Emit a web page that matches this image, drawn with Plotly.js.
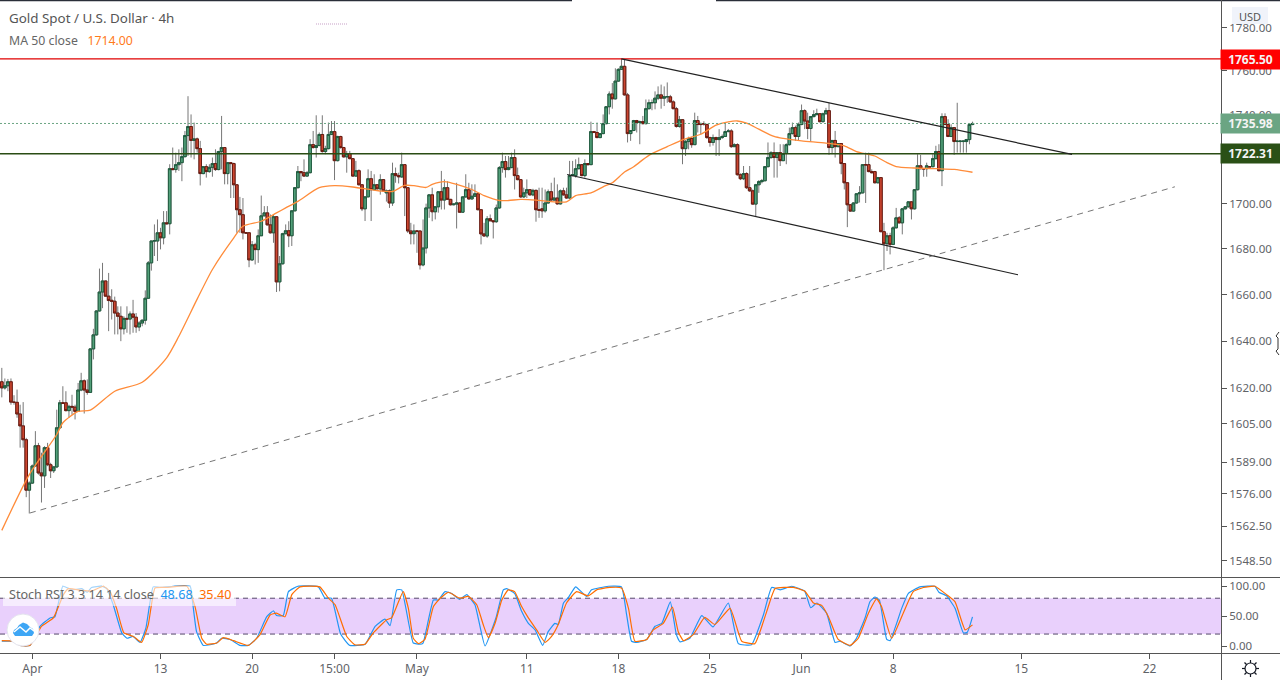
<!DOCTYPE html>
<html><head><meta charset="utf-8">
<script src="https://cdn.plot.ly/plotly-3.0.1.min.js"></script>
<style>html,body{margin:0;padding:0;background:#fff}#c{width:1280px;height:680px}</style></head>
<body><div id="c"></div>
<script>
const opens=[1622.7,1620.1,1621,1622.7,1614.1,1614,1609.1,1604.1,1598.3,1577.4,
1580.3,1587.4,1595.8,1584.5,1583.3,1595,1587.9,1585.4,1587,1603.3,
1613.8,1613.8,1610.5,1612.3,1612,1610.2,1619.2,1623.1,1619.2,1618.2,
1636.7,1642.7,1653,1661.2,1666,1659.4,1657.6,1657.2,1652.1,1650.7,
1645.3,1649.8,1649.5,1651.7,1650.3,1646.1,1647.8,1649,1658.5,1673.9,
1683.5,1683.5,1687.1,1684.9,1691.5,1691.1,1715.6,1715.2,1717.4,1718.3,
1721,1730.5,1734.6,1728.3,1729,1724.6,1713.4,1716.5,1714.3,1716.2,
1717.9,1715.2,1723.3,1725.1,1713.4,1718.3,1717.9,1708.4,1697.3,1695.1,
1687.1,1687.1,1675.2,1681.8,1679.7,1685.8,1694.6,1695.9,1690.6,1687.1,
1694.2,1665.6,1673.5,1686.7,1688,1685.8,1696.8,1707.1,1714.3,1713.8,
1712.3,1713.8,1726.4,1725.1,1726,1731,1723.3,1724.6,1731,1732.3,
1719.2,1730.1,1725.1,1720.9,1722.4,1720.1,1712.3,1714.7,1708.4,1697.7,
1703,1711.1,1706.2,1708.4,1706.6,1710.7,1704.8,1705.7,1700.3,1713.4,
1712.5,1711.9,1717.4,1707.1,1687.9,1686.7,1687.9,1687.9,1673,1680.4,
1698.1,1703.9,1696.4,1698.6,1705.3,1701.6,1707.1,1701.9,1699.5,1699.8,
1700.3,1696.2,1703,1706.2,1702.1,1703.3,1704.4,1697.3,1686.6,1685.7,
1693.3,1692.4,1692,1698.1,1716.1,1718.8,1715.2,1716.1,1720.6,1712.5,
1710.7,1703,1704.8,1706.2,1703.9,1705.9,1697.3,1697.7,1696.8,1700.3,
1705.3,1701.6,1702.5,1699.9,1705.7,1703.9,1702.5,1712.5,1712.5,1715.6,
1717.4,1712.5,1717.9,1717.4,1732.3,1731.9,1729.6,1731.4,1735.9,1743.6,
1749.4,1747.2,1755.3,1760.7,1762.1,1749,1731.4,1732.8,1737.3,1736.4,
1736.8,1735.9,1742.7,1745.4,1745.4,1747.5,1749,1747.5,1748.1,1748.1,
1745.8,1742.7,1734.6,1737.7,1724.6,1727.8,1729.2,1726.4,1737.3,1735.9,
1735.9,1735.5,1729.6,1727.4,1729.6,1728.7,1729.6,1730.1,1732.3,1732.6,
1725.5,1726.4,1712.9,1711.1,1713.4,1707.1,1705.7,1699.8,1708.4,1709.8,
1710.2,1716.5,1720.6,1722.8,1720.6,1722.8,1719.2,1722.4,1726.4,1731.4,
1734.1,1730.1,1735.5,1741.8,1737.1,1733.7,1739.1,1740,1740.4,1736.8,
1740.4,1741.8,1725.1,1728.3,1725.5,1726.9,1717.9,1709.3,1699.5,1696.7,
1700.3,1704.4,1704.8,1717.4,1717.4,1714.3,1714.3,1709.3,1711.6,1687.6,
1682.3,1685.8,1682,1689.3,1693.7,1691.5,1697.7,1698.6,1700.8,1697.7,
1706.2,1716.9,1715.6,1715.6,1716.5,1716.5,1720.1,1723.3,1714.7,1739.1,
1735.5,1730.1,1734.1,1727.8,1727.8,1727.8,1727.8,1728.7,1735.5];
const closes=[1620.1,1621,1622.7,1614.1,1614,1609.1,1604.1,1598.3,1577.4,1580.3,
1587.4,1595.8,1584.5,1583.3,1595,1587.9,1585.4,1587,1603.3,1613.8,
1613.6,1610.5,1612.3,1612,1610.2,1619.2,1623.1,1619.2,1618.2,1636.7,
1642.7,1653,1661.2,1666,1659.4,1657.5,1657.2,1652.1,1650.7,1645.3,
1649.8,1649.5,1651.7,1650.3,1646.1,1647.8,1649,1658.5,1673.9,1683.5,
1683.6,1687.1,1684.9,1691.5,1691.1,1715.6,1715.2,1717.4,1718.3,1721,
1730.5,1734.6,1728.3,1729,1724.6,1713.4,1716.5,1714.3,1716.2,1717.9,
1715.2,1723.3,1725.1,1713.4,1718.3,1717.9,1708.4,1697.3,1695.1,1687.1,
1687,1675.2,1681.8,1679.7,1685.8,1694.6,1695.9,1690.6,1687.1,1694.2,
1665.6,1673.5,1686.7,1688,1685.8,1696.8,1707.1,1714.3,1713.8,1712.3,
1713.8,1726.4,1725.1,1726,1731,1723.3,1724.6,1731,1732.3,1719.2,
1730.1,1725.1,1720.9,1722.4,1720.1,1712.3,1714.7,1708.4,1697.7,1703,
1711.1,1706.2,1708.4,1706.6,1710.7,1705.7,1705.7,1700.3,1713.4,1712.5,
1712,1717.4,1707.1,1687.9,1686.7,1687.9,1687.8,1673,1680.4,1698.1,
1703.9,1696.4,1698.6,1705.3,1701.6,1707.1,1701.9,1699.5,1699.8,1700.3,
1696.2,1703,1706.2,1702.1,1703.3,1704.4,1697.3,1686.6,1685.7,1693.3,
1692.4,1692,1698.1,1716.1,1718.8,1715.2,1716.1,1720.6,1712.5,1710.7,
1703,1704.8,1706.2,1703.9,1705.9,1697.3,1697.1,1696.8,1700.3,1705.3,
1701.6,1702.5,1699.9,1705.7,1703.9,1702.5,1712.5,1712.9,1715.6,1717.4,
1712.5,1717.9,1717.4,1732.3,1731.9,1729.6,1731.4,1735.9,1743.6,1749.4,
1747.2,1755.3,1760.7,1762.1,1749,1731.4,1732.8,1737.3,1736.4,1736.8,
1735.9,1742.7,1745.4,1745.5,1747.5,1749,1747.5,1748.1,1748.2,1745.8,
1742.7,1734.6,1737.7,1724.6,1727.8,1729.2,1726.4,1737.3,1735.5,1735.5,
1735.8,1729.6,1727.4,1729.6,1728.7,1729.6,1730.1,1732.3,1732.6,1725.5,
1726.4,1712.9,1711.1,1713.4,1707.1,1705.7,1699.8,1708.4,1709.8,1710.2,
1716.5,1720.6,1722.8,1720.6,1722.8,1719.2,1722.4,1726.4,1731.4,1734.1,
1730.1,1735.5,1741.8,1737.1,1733.7,1739.1,1740,1740.4,1736.8,1740.4,
1741.8,1725.1,1728.3,1725.5,1726.9,1717.9,1709.3,1699.5,1696.7,1700.3,
1704.4,1704.8,1717.4,1717.3,1714.3,1713.8,1709.3,1711.6,1687.6,1682.3,
1685.8,1682,1689.3,1693.7,1691.5,1697.7,1698.6,1700.8,1697.7,1706.2,
1716.9,1715.6,1715.5,1716.9,1716.4,1720.1,1723.3,1714.7,1739.1,1735.5,
1730.1,1734.1,1727.8,1728,1728,1728,1728.7,1735.5,1736];
const highs=[1628.6,1624.1,1623.9,1624.1,1617,1619.4,1613,1614.1,1599.1,1581,
1588,1601.9,1597,1592.9,1595.6,1597,1588.7,1587.3,1610.9,1615,
1620.8,1618.7,1613,1617.2,1613,1622.2,1626.5,1623.7,1623.7,1637,
1645.3,1653.2,1671.4,1673.9,1666.1,1669.5,1662.4,1659.2,1655,1655,
1650.7,1655,1652.8,1657.8,1652.1,1648.6,1649.3,1661.9,1674.7,1683.5,
1690.8,1693,1689.3,1696.7,1696.7,1717.6,1725.1,1722.8,1724.3,1725.1,
1732.6,1748.4,1740.1,1736.4,1729.6,1728.1,1716.7,1717.6,1717.6,1720.6,
1724.3,1723.6,1739.4,1725.1,1718.6,1718.6,1718.3,1708.6,1703,1702.5,
1687.2,1687.1,1683.5,1682.7,1688.6,1703.6,1698.9,1698.9,1695.2,1695.2,
1694.5,1676.9,1687.1,1690.8,1692.2,1697.1,1707.4,1716.8,1714.6,1719.8,
1714.6,1728.9,1732.6,1739.7,1731.9,1739.7,1725.9,1736.4,1737.1,1737.1,
1730.4,1730.4,1725.4,1723.6,1723.6,1720.4,1719.1,1715.3,1708.6,1703.3,
1715.3,1714.6,1713.1,1708.6,1713.1,1710.9,1706.3,1706.3,1718.3,1716.1,
1713.8,1722.8,1717.6,1707.4,1691.5,1690.8,1687.9,1687.9,1693,1700,
1704.2,1707.1,1698.9,1705.6,1714.6,1710.8,1710,1702.1,1700,1709.3,
1700.6,1703.3,1713.1,1709.3,1708.6,1708.6,1704.6,1697.5,1691.5,1694.5,
1695.2,1692.6,1699.6,1716.8,1722.8,1721.3,1721.3,1722.8,1724.3,1716.1,
1710.8,1707.1,1710.8,1706.3,1706.6,1706.3,1707.1,1707.1,1706.3,1706.3,
1709.3,1711.6,1708.6,1706.3,1707.1,1707.1,1719.1,1719.1,1719.8,1720.6,
1717.6,1719.8,1718.1,1736.8,1732.6,1736.4,1731.6,1740.1,1743.9,1750.6,
1754.4,1761.2,1761.2,1765.7,1765.2,1749.9,1732.9,1737.6,1737.6,1737.3,
1739.4,1746.9,1746.9,1746.9,1750.6,1752.9,1753.7,1752.9,1754.7,1749,
1746.5,1743.5,1739.4,1738,1728.5,1730,1730,1740.9,1739.4,1736.4,
1737,1736,1730,1731,1730,1733.4,1731,1736.4,1733.5,1733.4,
1727,1727,1713.5,1716.8,1714,1716.8,1706.3,1708.8,1710.5,1711,
1716.8,1727.4,1723.5,1727.4,1723,1726.6,1726.6,1727,1734.1,1736.4,
1735,1736.4,1744.6,1742.4,1740.9,1739.4,1742,1742.7,1740.6,1740.9,
1743.1,1745.4,1728.5,1732.6,1727.1,1727.1,1718.1,1709.5,1699.7,1700.6,
1704.6,1707.8,1717.6,1722.8,1722.8,1715.3,1714.6,1711.9,1711.7,1691.5,
1687.1,1687.1,1690,1698.1,1694.5,1698.1,1698.9,1701.1,1701.1,1706.5,
1722.1,1721.8,1715.8,1718.3,1716.7,1722.1,1725.9,1726.6,1740.6,1740.6,
1737.9,1735.6,1734.4,1745.4,1728.3,1728.3,1729,1735.8,1736.8];
const lows=[1616.1,1619.4,1618.7,1613,1613,1607.5,1595,1595,1574.5,1567.8,
1580,1587.2,1583.8,1572.3,1578.3,1587.3,1582.4,1584.5,1586.5,1603,
1613.4,1610.2,1607.5,1608.8,1606.8,1610,1618.7,1609.3,1617.2,1618,
1632.2,1642.4,1652.8,1654.2,1659.3,1644.3,1649.3,1642.9,1642.9,1640,
1642.9,1643.6,1642.9,1643.6,1643.6,1644.3,1646.4,1647.1,1658.2,1670.5,
1676.9,1674.7,1679.8,1682,1690.8,1686.4,1714.9,1713.8,1714.6,1710,
1720.6,1721.3,1720.6,1719.8,1722.8,1708.1,1713.1,1711.6,1713.8,1712,
1714.6,1714.9,1715.3,1708.6,1708.6,1702.5,1702.5,1687.1,1687.1,1684.2,
1686.8,1672,1674.7,1673.2,1673.9,1685.7,1694.4,1690.4,1686.8,1682.7,
1661.2,1661.5,1673.2,1686.4,1680.8,1681.3,1696.7,1706.8,1710,1712,
1712,1713.5,1724.6,1720.6,1725.7,1722.8,1722.1,1724.3,1730.7,1710.5,
1718.9,1724.6,1720.6,1713.8,1719.8,1712,1712,1708.1,1696.7,1692.3,
1703,1692.3,1706,1706.3,1704,1705.4,1700.9,1698.1,1699,1709.3,
1709,1711.6,1694.5,1687,1682,1682,1678.3,1671,1672.4,1678,
1693.7,1692.2,1693,1696,1697.4,1697.4,1701.8,1699.2,1699.3,1689,
1696,1696,1702.5,1701.8,1701.8,1703,1697.1,1682,1685.5,1684.9,
1692.2,1684.6,1691.5,1697.7,1713.8,1711.6,1714.9,1715.8,1706.3,1710.4,
1702.5,1702.5,1702.5,1703.6,1703.3,1692,1693.7,1693.7,1696,1700,
1701.3,1701.3,1699.6,1699.6,1703.6,1702.2,1702.1,1712.2,1711.6,1715.3,
1712.2,1711.6,1717.1,1717.3,1731.6,1729.3,1729.3,1731.1,1735.6,1740.1,
1742.7,1746.9,1755,1760.4,1748.7,1727.4,1728.1,1732.5,1731.9,1726.6,
1735.6,1735.6,1742.4,1742,1742.4,1746.6,1742.7,1743.9,1745.4,1745.5,
1742.5,1734.1,1734.1,1717.6,1721.3,1724.3,1725,1726.3,1731.9,1731.1,
1735,1729,1725.5,1726,1721.3,1721.3,1729,1730,1732,1725,
1725.5,1712.5,1710.5,1710.5,1706.5,1705.2,1699.5,1694.5,1704.8,1709,
1710,1716.2,1720,1711.6,1711.6,1716.8,1719,1717.6,1726,1731,
1728.1,1728.1,1735.2,1733.4,1728.9,1727.7,1738.8,1739.7,1736.4,1736.4,
1740.1,1721.8,1722.1,1720.6,1725.3,1713.1,1706.3,1689.6,1696.4,1696.4,
1700,1700.5,1704.5,1700.3,1714,1713.5,1709,1709,1687.3,1670.7,
1679.1,1677.6,1681.7,1689,1691.2,1686.4,1697.4,1698.3,1693,1697.4,
1705.9,1715.3,1712,1712,1716.2,1716.2,1719.8,1714.4,1707.8,1735.2,
1729.8,1729.8,1721.8,1722.8,1722.8,1722.8,1722.8,1726.6,1735.2];

const maBars=[0,9,18,20,25,29,37,46,54,58,64,69,76,79,85,90,93,97,104,109,115,124,128,132,135,139,141,145,149,154,158,163,166,170,175,179,185,188,193,197,200,204,207,212,218,223,229,234,238,241,244,248,253,256,262,270,276,280,286,290,293,299,306,312,318];
const maVals=[1560.9,1583.8,1600.5,1605.4,1610.2,1610.7,1618.7,1622.5,1632.9,1642.1,1658.1,1671,1684.9,1690,1692.2,1695.9,1698.1,1701,1707.1,1708,1707.4,1705.6,1705.4,1708.1,1708,1707.2,1708.6,1709.8,1708.6,1706.3,1703.6,1701.4,1701.4,1701.9,1701.6,1701,1700.8,1703.6,1704.8,1707.5,1709.3,1714.1,1716.5,1721.6,1725.5,1728.6,1731.1,1735.2,1736.7,1737.1,1736.1,1733.4,1730.1,1729.2,1728.1,1727.1,1725.9,1723.3,1721.3,1718.3,1716.5,1715.9,1715.6,1715.3,1714];

const kBars=[0,3.8,6,9.2,12.5,15.8,17.4,20,23,26.2,28,29.4,32.7,34.4,36.5,39.3,41,43,45.3,47.2,49.6,51.8,56.2,61.7,62.5,63.8,66,70.4,72,74.8,78,80.8,83.5,86.8,89,90,92.2,93.9,97,103.7,105.9,108,111,114,119,122.3,125.5,127.2,129.4,131,134.8,137,138,141.4,143,145.2,147.4,150,152.3,155,158.3,162,164.3,165.4,168,170.3,172.5,174.7,177.2,179,181.2,182.3,184,185.6,188,191.6,193.2,198.7,203,204.7,206.3,208,211.3,214,216.2,219,221,222.2,225.4,229.3,233,238,241.3,245.6,249.5,252.2,255,258.8,263,265,267,270.2,273,274.6,277.9,280,282.8,284.4,286,287.5,289.9,291,294.8,297,300.8,305.7,307,309.5,312.3,315,316.3,318];
const kVals=[8,8,1,1,33,47,49,100,94,96,90,98,100,96,69,22,13,16,6,30,99,98,100,100,74,24,1,5,13,11,1,1,13,49,59,51,51,91,100,99,80,80,20,1,3,33,45,34,94,94,5,3,5,77,77,91,88,78,86,69,0,49,94,96,88,58,38,27,1,24,38,36,72,81,99,83,94,100,99,52,8,6,11,33,38,74,19,7,13,51,32,72,4,2,52,98,94,100,92,64,72,55,6,8,0,13,47,74,82,77,11,9,63,88,99,100,90,84,63,22,23,48.68];
const dBars=[0,3.8,6,9.2,13,16.9,20.2,21.8,26.2,29.4,33.3,35.5,37.6,40,43.1,45.8,48,50.2,54,60.6,63.3,65.5,67.1,70.4,72.6,75.9,80.8,84.6,87.9,90,92.8,95,97.7,104.2,107,109.2,113,115.7,119,121.7,126.1,127.7,131.5,133.2,134.8,136.5,138.6,141.4,143.6,146.3,150,152.8,155.6,157.7,159.4,161.6,163.8,165.9,168,170.3,172.5,175.2,178,180.1,182.3,185,188.3,192.1,194.9,199.2,203,205.3,207.4,211.3,213.4,216.7,219.7,221.6,223.3,226.5,230.3,233.6,238.6,242.4,246.7,250.6,253.3,259.3,263,265.9,268.6,270.8,274,277.9,280.6,283.9,286.6,288.2,291.5,295.3,298.6,301.9,305.7,309.5,312.3,315.6,318];
const dVals=[9,8,1,1,33,47,86,96,93,92,100,91,63,22,16,6,36,97,98,100,66,13,3,5,14,9,1,19,52,55,49,86,99,99,80,69,16,2,3,22,44,47,91,63,13,4,11,66,80,90,80,83,69,36,14,38,77,94,91,66,47,27,6,16,36,72,91,84,94,98,97,63,8,11,27,38,65,24,9,19,48,36,63,8,4,58,96,98,92,72,68,49,11,1,13,55,79,66,13,55,91,98,100,86,74,27,35.4];

const resistance=1765.5, support=1722.31, lastClose=1735.98;
const channelTopBars=[203,350.6], channelTopVals=[1765.5,1722];
const channelBotBars=[185.2,332.9], channelBotVals=[1713,1668.7];
const trendBars=[9.2,384.3], trendVals=[1568,1707.5];

const priceTicks=[1780,1760,1740,1720,1700,1680,1660,1640,1620,1605,1589,1576,1562.5,1548.5];
const priceTickText=['1780.00','1760.00','1740.00','1720.00','1700.00','1680.00','1660.00','1640.00','1620.00','1605.00','1589.00','1576.00','1562.50','1548.50'];
const stochTicks=[100,50,0];
const stochTickText=['100.00','50.00','0.00'];
const dateBars=[10,52,82,109,136,172,202,232,262,292,334,376];
const dateLabels=['Apr','13','20','15:00','May','11','18','25','Jun','8','15','22'];

const W=1221,H=653,FONT='"Noto Sans", "DejaVu Sans", sans-serif',GREY='#5f6368';
const sx=p=>p/W, sy=p=>(H-p)/H;
const bars=opens.map((_,i)=>i);
const R0=-0.59,R1=399.41;
const hi=highs.map((h,i)=>Math.max(h,opens[i],closes[i]));
const lo=lows.map((l,i)=>Math.min(l,opens[i],closes[i]));
const bodyHi=opens.map((o,i)=>Math.max(o,closes[i]));
const bodyLo=opens.map((o,i)=>Math.min(o,closes[i]));
const line=(x,y,color,width,dash,ya,smooth)=>({type:'scatter',mode:'lines',x,y,yaxis:ya||'y',xaxis:'x',line:Object.assign({color,width,dash:dash||'solid'},smooth?{shape:'spline',smoothing:smooth}:{}),hoverinfo:'skip',showlegend:false});

const traces=[
 {type:'candlestick',x:bars,open:opens,high:hi,low:lo,close:closes,whiskerwidth:0,showlegend:false,hoverinfo:'skip',
  increasing:{line:{color:'#777777',width:1},fillcolor:'#777777'},decreasing:{line:{color:'#777777',width:1},fillcolor:'#777777'}},
 {type:'candlestick',x:bars,open:opens,high:bodyHi,low:bodyLo,close:closes,whiskerwidth:0,showlegend:false,hoverinfo:'skip',
  increasing:{line:{color:'#1f5c3f',width:1},fillcolor:'#53a07a'},decreasing:{line:{color:'#6b1a10',width:1},fillcolor:'#cc4630'}},
 line(maBars,maVals,'#ff8c3a',1.3,null,null,0.7),
 line([R0,R1],[resistance,resistance],'#e00000',1.2),
 line([R0,R1],[support,support],'#2a4d14',1.3),
 line([R0,R1],[lastClose,lastClose],'#6ba583',1,'2px,2px'),
 line(channelTopBars,channelTopVals,'#222222',1.2),
 line(channelBotBars,channelBotVals,'#222222',1.2),
 line(trendBars,trendVals,'#777777',1,'6px,5px'),
 line(kBars,kVals,'#2196f3',1.2,'solid','y2',0.4),
 line(dBars,dVals,'#ff6d00',1.2,'solid','y2',0.4)
];

const pl=(x0,y0,x1,y1,color,width,dash)=>({type:'line',xref:'paper',yref:'paper',x0:sx(x0),y0:sy(y0),x1:sx(x1),y1:sy(y1),line:{color,width,dash:dash||'solid'},layer:'above'});
const poly=pts=>pts.map(p=>sx(p[0])+' '+sy(p[1])).join(' L ');
const shapes=[
 {type:'rect',xref:'paper',yref:'y2',x0:0,x1:1,y0:20,y1:80,fillcolor:'#e9d0fc',line:{width:0},layer:'below'},
 {type:'line',xref:'paper',yref:'y2',x0:0,x1:1,y0:80,y1:80,line:{color:'#55486a',width:1,dash:'5px,4px'},layer:'below'},
 {type:'line',xref:'paper',yref:'y2',x0:0,x1:1,y0:20,y1:20,line:{color:'#55486a',width:1,dash:'5px,4px'},layer:'below'},
 {type:'rect',xref:'paper',yref:'paper',x0:sx(3),x1:sx(236),y0:sy(606),y1:sy(586),fillcolor:'rgba(255,255,255,0.6)',line:{width:0},layer:'above'},
 pl(0,0.5,572,0.5,'#2a2e39',1.5),pl(716,0.5,1280,0.5,'#2a2e39',1.5),
 pl(0,577.5,1280,577.5,'#555555',1),pl(0,653.5,1280,653.5,'#555555',1),pl(1221.5,0,1221.5,680,'#555555',1),
 pl(316,24,348,24,'#e3cfe3',2,'1px,1px'),
 {type:'rect',xref:'paper',yref:'paper',x0:sx(1232),x1:sx(1268),y0:sy(24),y1:sy(7),fillcolor:'#f0f3fa',line:{width:0},layer:'above'},
 {type:'circle',xref:'paper',yref:'paper',x0:sx(7),x1:sx(39),y0:sy(646),y1:sy(614),fillcolor:'#ffffff',line:{color:'#e4e4ee',width:1},layer:'above'},
 {type:'path',xref:'paper',yref:'paper',path:'M '+poly([[13,633],[14,630],[17,628],[19,625],[23,622.5],[27,624],[30,627],[33,629],[34,633],[32,636],[15,636]])+' Z',fillcolor:'#3ea6f5',line:{width:0},layer:'above'},
 {type:'path',xref:'paper',yref:'paper',path:'M '+poly([[14,632],[20,627],[26,632],[30,628],[34,631]]),line:{color:'#ffffff',width:1.5},layer:'above'},
 {type:'path',xref:'paper',yref:'paper',path:'M '+poly([[1279,332],[1276,336],[1278,338],[1278,349],[1276,351],[1279,355]]),line:{color:'#333333',width:1},layer:'above'},
 {type:'circle',xref:'paper',yref:'paper',x0:sx(1245),x1:sx(1256),y0:sy(674),y1:sy(663),fillcolor:'#ffffff',line:{color:'#131722',width:1.2},layer:'above'},
 pl(1250.5,660,1250.5,663,'#131722',1.2),pl(1250.5,674,1250.5,677,'#131722',1.2),pl(1242,668.5,1245,668.5,'#131722',1.2),pl(1256,668.5,1259,668.5,'#131722',1.2),
 pl(1244.5,662.5,1246.5,664.5,'#131722',1.2),pl(1256.5,662.5,1254.5,664.5,'#131722',1.2),pl(1244.5,674.5,1246.5,672.5,'#131722',1.2),pl(1256.5,674.5,1254.5,672.5,'#131722',1.2)
];
const note=(x,y,text,size,color,anchor,extra)=>Object.assign({xref:'paper',yref:'paper',x:sx(x),y:sy(y),text,showarrow:false,xanchor:anchor||'left',yanchor:'middle',font:{family:FONT,size,color},borderpad:0},extra||{});
const priceBox=(y,text,bg)=>note(1250.5,y,'<b>'+text+'</b>',12,'#f4f4f4','center',{bgcolor:bg,width:59,height:19,align:'center',valign:'middle'});
const annotations=[
 note(8,18,'Gold Spot / U.S. Dollar · 4h',13.4,'#555555'),
 note(8,41,'MA 50 close   <span style="color:#ff7a1a">1714.00</span>',12.3,'#666666'),
 note(8,594,'Stoch RSI 3 3 14 14 close  <span style="color:#2196f3">48.68</span>  <span style="color:#ff6d00">35.40</span>',12.6,'#666666'),
 note(1250,16,'USD',11,'#555555','center'),
 priceBox(59.5,'1765.50','#ff0000'),
 priceBox(123.5,'1735.98','#6ba583'),
 priceBox(153.5,'1722.31','#2a5016')
];
const layout={
 width:1280,height:680,margin:{l:0,r:59,t:0,b:27,pad:0},paper_bgcolor:'#ffffff',plot_bgcolor:'#ffffff',showlegend:false,hovermode:false,
 font:{family:FONT,color:GREY,size:11.5},boxgap:0.15,boxgroupgap:0,
 xaxis:{anchor:'y2',domain:[0,1],range:[R0,R1],type:'linear',showgrid:false,zeroline:false,showline:false,rangeslider:{visible:false},
  tickmode:'array',tickvals:dateBars,ticktext:dateLabels,ticks:'outside',ticklen:5,tickcolor:'#555555',tickfont:{family:FONT,size:12,color:GREY}},
 yaxis:{domain:[(H-577)/H,1],type:'log',range:[Math.log10(1542.0),Math.log10(1792.9)],side:'right',anchor:'x',showgrid:false,zeroline:false,showline:false,
  tickmode:'array',tickvals:priceTicks,ticktext:priceTickText,ticks:'outside',ticklen:5,tickcolor:'#555555',tickfont:{family:FONT,size:11.5,color:GREY}},
 yaxis2:{domain:[0,(H-577)/H],type:'linear',range:[-11.7,115.5],side:'right',anchor:'x',showgrid:false,zeroline:false,showline:false,
  tickmode:'array',tickvals:stochTicks,ticktext:stochTickText,ticks:'outside',ticklen:5,tickcolor:'#555555',tickfont:{family:FONT,size:11.5,color:GREY}},
 shapes,annotations
};
Plotly.newPlot('c',traces,layout,{displayModeBar:false,staticPlot:true});
</script></body></html>
